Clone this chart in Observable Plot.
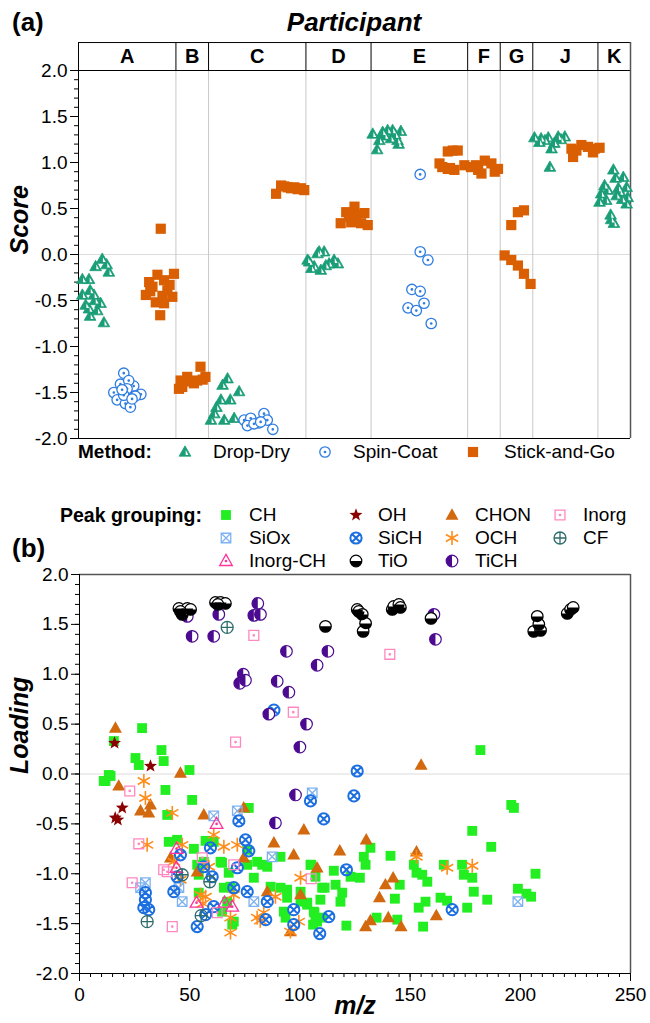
<!DOCTYPE html>
<html><head><meta charset="utf-8">
<script src="https://cdn.jsdelivr.net/npm/d3@7"></script>
<script src="https://cdn.jsdelivr.net/npm/@observablehq/plot@0.6"></script>
<style>
body{margin:0;background:#fff;font-family:"Liberation Sans",Arial,Helvetica,sans-serif;color:#000;}
#wrap{position:relative;width:650px;height:1023px;overflow:hidden;background:#fff;}
.t{position:absolute;white-space:nowrap;line-height:24px;height:24px;}
</style></head><body><div id="wrap"></div>
<script>
// ---------------- DATA (panel a) ----------------
const participants = ["A","B","C","D","E","F","G","J","K"];
const participantEdges = [0, 17.65, 23.56, 41.2, 53.0, 70.5, 76.4, 82.3, 94.1, 100];
const methodLabels = ["Drop-Dry","Spin-Coat","Stick-and-Go"];
const scoreTicks = [-2,-1.5,-1,-0.5,0,0.5,1,1.5,2];

// [sample position, score]
const dropDry = [
[0.7,-0.27],[1.9,-0.27],[2.1,-0.39],[0.7,-0.44],[2.8,-0.44],[1.3,-0.55],[4.0,-0.53],[1.9,-0.59],[3.4,-0.61],[2.1,-0.67],[4.6,-0.74],[3.1,-0.13],[4.3,-0.05],[5.1,-0.11],[5.5,-0.19],[3.0,-0.50],
[27.0,-1.35],[26.1,-1.42],[29.1,-1.49],[25.8,-1.58],[27.5,-1.58],[25.0,-1.66],[24.0,-1.80],[26.4,-1.80],[28.2,-1.78],[24.6,-1.73],
[41.5,-0.06],[43.6,0.03],[44.5,0.03],[42.7,-0.13],[43.9,-0.17],[45.4,-0.10],[46.3,-0.06],[47.0,-0.10],[44.8,-0.12],[41.8,-0.08],[43.3,0.01],[42.2,-0.15],
[53.3,1.31],[55.1,1.33],[56.0,1.35],[56.9,1.35],[58.4,1.34],[54.5,1.24],[56.6,1.26],[57.8,1.24],[54.1,1.14],[55.5,1.29],[57.4,1.30],[58.0,1.20],
[82.6,1.27],[83.8,1.26],[85.1,1.27],[86.9,1.28],[88.1,1.28],[83.5,1.22],[85.7,1.15],[85.4,0.95],[84.5,1.24],[87.4,1.25],[86.2,1.21],
[96.9,0.92],[95.3,0.75],[97.3,0.83],[98.7,0.84],[94.7,0.66],[95.9,0.70],[97.8,0.72],[99.3,0.73],[94.4,0.57],[95.6,0.59],[97.5,0.64],[99.3,0.55],[96.4,0.43],[97.0,0.34],[98.1,0.68],[96.5,0.38],[98.5,0.60],[99.5,0.62]
];
const spinCoat = [
[8.2,-1.29],[7.6,-1.41],[10.0,-1.43],[9.1,-1.37],[6.4,-1.50],[11.3,-1.52],[7.0,-1.58],[10.3,-1.54],[8.5,-1.62],[9.4,-1.66],[8.8,-1.46],[8.2,-1.53],[9.7,-1.57],[7.9,-1.47],
[30.0,-1.80],[31.2,-1.78],[32.7,-1.83],[33.6,-1.73],[34.2,-1.80],[35.2,-1.90],[30.6,-1.86],[31.8,-1.84],[33.0,-1.82],
[61.9,0.87],[61.9,0.03],[63.3,-0.06],[60.4,-0.38],[61.9,-0.40],[62.6,-0.53],[59.7,-0.58],[61.2,-0.61],[63.9,-0.75]
];
const stickAndGo = [
[12.8,-0.30],[14.3,-0.22],[15.5,-0.28],[17.3,-0.21],[12.2,-0.44],[14.0,-0.52],[15.5,-0.53],[17.0,-0.46],[14.8,-0.66],[13.4,-0.35],[16.1,-0.39],[16.5,-0.33],[14.9,0.28],[13.0,-0.40],[15.2,-0.45],
[18.5,-1.37],[18.2,-1.46],[19.7,-1.33],[20.9,-1.40],[22.1,-1.22],[23.0,-1.33],[21.5,-1.37],[18.8,-1.44],[20.3,-1.38],[22.5,-1.36],
[35.8,0.66],[36.7,0.75],[37.9,0.73],[39.1,0.73],[40.3,0.72],[40.9,0.70],[37.3,0.74],[38.5,0.72],[39.7,0.71],
[48.5,0.46],[50.0,0.52],[51.8,0.45],[47.5,0.34],[49.4,0.35],[51.2,0.34],[52.4,0.32],[50.3,0.43],[49.0,0.41],
[66.9,1.12],[67.8,1.13],[68.7,1.13],[65.4,0.99],[66.9,0.93],[68.1,0.92],[69.9,0.97],[65.9,0.95],[67.3,0.94],
[71.1,0.95],[72.4,0.92],[73.6,1.02],[74.8,0.99],[76.0,0.93],[73.0,0.88],[75.4,0.90],[72.0,0.97],
[78.4,0.32],[79.6,0.46],[80.7,0.48],[77.2,-0.01],[78.4,-0.06],[79.6,-0.12],[80.7,-0.21],[81.9,-0.32],
[89.3,1.15],[91.1,1.19],[92.3,1.17],[93.5,1.15],[89.6,1.06],[93.2,1.11],[94.4,1.16],[90.2,1.13]
];

// ---------------- DATA (panel b) : [m/z, loading] ----------------
const mzTicks = [0,50,100,150,200,250];
const loadingTicks = [-2,-1.5,-1,-0.5,0,0.5,1,1.5,2];
const CH = [
[11.8,-0.07],[13.3,-0.01],[14.1,-0.02],[11.0,-0.07],[15.6,0.33],[28.4,0.46],[25.4,0.16],[26.9,0.09],[37.2,0.24],[38.2,0.13],[49.9,0.04],[39.0,-0.16],
[51.1,-0.26],[39.8,-0.41],[40.5,-0.68],[44.3,-0.66],[51.9,-0.75],[57.2,-0.67],[76.8,-0.34],[56.4,-0.88],[64.7,-0.89],[67.7,-0.99],[79.1,-1.04],[82.9,-0.91],[85.2,-0.93],[91.2,-0.83],[104.8,-0.91],[107.1,-1.03],[110.1,-1.14],[86.7,-1.13],[91.2,-1.14],[94.2,-1.24],[92.7,-1.38],[93.5,-1.44],[100.3,-1.28],[103.3,-1.31],[106.3,-1.38],[107.8,-1.48],[110.1,-1.44],[67.0,-1.28],[69.3,-1.51],[68.5,-1.13],[65.5,-1.14],[54.1,-1.01],[53.4,-0.91],[60.9,-0.68],[64.0,-0.88],[76.1,-0.76],[80.6,-0.88],[76.1,-0.91],[100.3,-1.18],[94.2,-1.16],[54.1,-1.19],[64.7,-1.38],[70.0,-1.48],
[195.9,-0.31],[197.1,-0.34],[178.2,-0.57],[186.8,-0.73],[181.9,0.24],[132.0,-0.74],[129.0,-0.83],[141.1,-0.82],[129.8,-0.91],[151.7,-0.91],[165.3,-0.91],[173.6,-0.91],[115.4,-0.97],[105.1,-0.91],[123.0,-1.03],[127.2,-1.04],[152.9,-0.99],[155.5,-1.01],[157.8,-1.08],[174.4,-1.01],[178.2,-1.04],[206.9,-1.00],[145.3,-1.11],[116.2,-1.11],[111.2,-1.14],[119.2,-1.19],[178.9,-1.18],[198.9,-1.15],[202.8,-1.20],[204.9,-1.23],[185.0,-1.26],[163.8,-1.24],[166.8,-1.27],[175.9,-1.34],[157.0,-1.28],[153.9,-1.34],[143.1,-1.25],[118.4,-1.28],[109.3,-1.26],[103.3,-1.29],[106.6,-1.39],[107.1,-1.47],[106.0,-1.51],[134.8,-1.44],[144.2,-1.46],[121.1,-1.52],[155.9,-1.53]
];
const SiOx = [[29.9,-1.09],[27.7,-1.14],[46.6,-1.28],[45.1,-1.14],[60.9,-0.42],[71.6,-0.37],[79.1,-1.28],[87.4,-0.83],[105.6,-0.19],[198.9,-1.28]];
const InorgCH = [[44.0,-0.75],[44.0,-0.94],[62.2,-0.50],[53.1,-1.29],[65.8,-1.29],[69.3,-1.33]];
const OH = [[15.9,0.31],[32.2,0.08],[19.4,-0.34],[17.4,-0.46],[16.2,-0.44]];
const SiCH = [[29.9,-1.19],[29.9,-1.26],[29.2,-1.34],[31.4,-1.36],[42.8,-1.18],[44.3,-1.03],[45.8,-0.81],[53.4,-1.53],[56.4,-0.93],[59.4,-0.74],[60.2,-1.03],[60.9,-1.33],[57.2,-1.41],[71.6,-0.94],[70.0,-1.14],[72.3,-0.47],[76.1,-1.18],[75.3,-0.66],[76.8,-0.77],[85.2,-1.28],[84.5,-1.46],[97.2,-1.36],[97.2,-1.51],[104.8,-0.27],[110.8,-0.45],[109.0,-1.60],[113.1,-1.43],[126.0,0.03],[124.5,-0.22],[121.1,-0.96],[169.1,-1.36],[88.2,0.64]];
const TiO = [[45.1,1.66],[48.9,1.66],[46.6,1.60],[50.4,1.65],[45.8,1.63],[61.7,1.72],[64.0,1.72],[66.2,1.71],[62.8,1.70],[111.6,1.48],[126.0,1.65],[126.7,1.63],[128.3,1.60],[129.8,1.51],[128.7,1.43],[141.9,1.65],[142.6,1.68],[144.9,1.70],[145.6,1.67],[159.5,1.56],[207.7,1.58],[206.1,1.43],[209.2,1.44],[208.4,1.50],[221.3,1.61],[222.8,1.65],[224.0,1.67]];
const CHON = [[16.3,0.46],[17.8,-0.12],[45.8,0.01],[27.7,-0.37],[31.4,-0.39],[32.2,-0.31],[56.4,-0.41],[74.5,-0.34],[88.2,-0.69],[97.2,-0.81],[101.8,-0.56],[107.8,-0.94],[53.4,-0.98],[100.3,-1.21],[85.2,-1.18],[95.7,-1.58],[74.5,-0.84],[41.3,-0.84],[155.0,0.09],[130.1,-0.66],[118.1,-0.77],[142.3,-1.04],[138.8,-1.11],[136.1,-1.24],[152.9,-0.78],[161.9,-1.42],[140.1,-1.44],[132.0,-1.47],[129.8,-1.53],[145.9,-1.53]];
const OCH = [[29.2,-0.07],[29.9,-0.24],[30.7,-0.71],[42.1,-0.39],[46.6,-0.71],[60.9,-0.61],[65.5,-0.73],[71.6,-0.71],[58.7,-0.93],[54.9,-1.21],[57.2,-1.23],[70.0,-1.21],[68.5,-1.44],[68.5,-1.59],[80.6,-1.44],[83.6,-1.39],[88.9,-1.23],[95.7,-1.58],[99.5,-1.48],[100.3,-1.04],[45.8,-1.06],[42.8,-0.88],[152.9,-0.83],[166.8,-0.94],[178.2,-0.92],[82.0,-1.47],[56.0,-1.30]];
const TiCH = [[48.9,1.58],[51.1,1.38],[63.2,1.60],[60.9,1.38],[80.9,1.71],[79.1,1.59],[82.1,1.60],[93.9,1.23],[74.3,1.00],[72.7,0.91],[75.3,0.94],[89.7,0.93],[95.0,0.82],[85.9,0.60],[103.0,0.50],[100.0,0.27],[107.8,1.09],[112.7,1.23],[160.8,1.60],[161.5,1.35],[98.0,-0.21],[88.9,-0.49]];
const Inorg = [[22.8,-0.17],[26.9,-0.70],[23.9,-1.09],[38.2,-0.96],[39.8,-0.98],[42.1,-1.53],[55.7,-0.84],[62.5,-1.39],[70.0,-0.91],[105.1,-1.05],[70.8,0.32],[79.1,1.39],[97.0,0.62],[140.8,1.20]];
const CF = [[46.6,-1.01],[59.1,-1.08],[55.2,-1.42],[30.7,-1.48],[67.0,1.47]];

// ---------------- symbols & styles ----------------
const FONT = "'Liberation Sans', Arial, Helvetica, sans-serif";
function S(f){ return {draw(c,size){ f(c, Math.sqrt(size/Math.PI)); }}; }
function circlePath(c,r){ c.moveTo(r,0); c.arc(0,0,r,0,2*Math.PI); }
function dotPath(c,r){ const d=0.7; c.moveTo(d,0); c.arc(0,0,d,0,2*Math.PI); }
function squarePath(c,r){ const h=r*0.85; c.moveTo(-h,-h); c.lineTo(h,-h); c.lineTo(h,h); c.lineTo(-h,h); c.closePath(); }
function triPath(c,r){ c.moveTo(0,-r*1.1); c.lineTo(r*1.05,r*0.75); c.lineTo(-r*1.05,r*0.75); c.closePath(); }
function starPath(c,r){
  for (let i=0;i<10;i++){ const a=-Math.PI/2+i*Math.PI/5, rr=i%2?r*0.42:r; const x=Math.cos(a)*rr, y=Math.sin(a)*rr; i?c.lineTo(x,y):c.moveTo(x,y); }
  c.closePath();
}
const sym = {
  tri: S(triPath),
  triInner: S((c,r)=>{ c.moveTo(r*0.12,-r*0.35); c.lineTo(r*0.62,r*0.52); c.lineTo(r*0.12,r*0.52); c.closePath(); }),
  square: S(squarePath),
  circle: S(circlePath),
  circleDot: S((c,r)=>{ circlePath(c,r); dotPath(c,r); }),
  squareX: S((c,r)=>{ squarePath(c,r); const h=r*0.85; c.moveTo(-h,-h); c.lineTo(h,h); c.moveTo(h,-h); c.lineTo(-h,h); }),
  squareDot: S((c,r)=>{ squarePath(c,r); dotPath(c,r); }),
  triDot: S((c,r)=>{ triPath(c,r); dotPath(c,r); }),
  circleX: S((c,r)=>{ circlePath(c,r); const k=r*0.707; c.moveTo(-k,-k); c.lineTo(k,k); c.moveTo(k,-k); c.lineTo(-k,k); }),
  circlePlus: S((c,r)=>{ circlePath(c,r); c.moveTo(-r,0); c.lineTo(r,0); c.moveTo(0,-r); c.lineTo(0,r); }),
  halfBottom: S((c,r)=>{ c.moveTo(r,0); c.arc(0,0,r,0,Math.PI); c.closePath(); }),
  halfLeft: S((c,r)=>{ c.moveTo(0,-r); c.arc(0,0,r,-Math.PI/2,Math.PI/2,true); c.closePath(); }),
  asterisk: S((c,r)=>{ for (const a of [90,30,150]) { const t=a*Math.PI/180, dx=Math.cos(t)*r, dy=Math.sin(t)*r; c.moveTo(-dx,-dy); c.lineTo(dx,dy);} }),
  star: S(starPath)
};

const styleA = {
  "Drop-Dry": [{symbol:sym.tri, fill:"#1b9e77", stroke:"#1b9e77", r:5.6, strokeWidth:0.8},{symbol:sym.triInner, fill:"white", stroke:"none", r:5.6}],
  "Spin-Coat": [{symbol:sym.circleDot, fill:"white", stroke:"#2f7de1", r:5.2, strokeWidth:1.3}],
  "Stick-and-Go": [{symbol:sym.square, fill:"#d95f02", stroke:"none", r:6}]
};
const dataA = {"Drop-Dry": dropDry, "Spin-Coat": spinCoat, "Stick-and-Go": stickAndGo};

const styleB = {
  "CH": [{symbol:sym.square, fill:"#22ee22", stroke:"none", r:5.8}],
  "SiOx": [{symbol:sym.squareX, fill:"none", stroke:"#7fb2f0", r:5.6, strokeWidth:1.3}],
  "Inorg-CH": [{symbol:sym.triDot, fill:"none", stroke:"#ff3399", r:6, strokeWidth:1.3}],
  "OH": [{symbol:sym.star, fill:"#8b0000", stroke:"none", r:6.8}],
  "SiCH": [{symbol:sym.circleX, fill:"none", stroke:"#1c6fe0", r:5.6, strokeWidth:2}],
  "TiO": [{symbol:sym.circle, fill:"white", stroke:"black", r:5.8, strokeWidth:1.2},{symbol:sym.halfBottom, fill:"black", stroke:"none", r:5.8}],
  "CHON": [{symbol:sym.tri, fill:"#d2690f", stroke:"none", r:6.2}],
  "OCH": [{symbol:sym.asterisk, fill:"none", stroke:"#ff8c1a", r:7, strokeWidth:1.6}],
  "TiCH": [{symbol:sym.circle, fill:"white", stroke:"#4b0a8f", r:5.8, strokeWidth:1.2},{symbol:sym.halfLeft, fill:"#4b0a8f", stroke:"none", r:5.8}],
  "Inorg": [{symbol:sym.squareDot, fill:"none", stroke:"#ff88c0", r:5.8, strokeWidth:1.3}],
  "CF": [{symbol:sym.circlePlus, fill:"none", stroke:"#2e6b6b", r:6, strokeWidth:1.3}]
};
const dataB = {"CH":CH,"SiOx":SiOx,"Inorg-CH":InorgCH,"OH":OH,"SiCH":SiCH,"TiO":TiO,"CHON":CHON,"OCH":OCH,"TiCH":TiCH,"Inorg":Inorg,"CF":CF};
const drawOrderB = ["CH","CHON","OCH","SiOx","SiCH","Inorg","Inorg-CH","CF","OH","TiCH","TiO"];
const legendColsB = [["CH","SiOx","Inorg-CH"],["OH","SiCH","TiO"],["CHON","OCH","TiCH"],["Inorg","CF"]];

function dotLayers(data, layers){
  return layers.map(L => Plot.dot(data, {x:d=>d[0], y:d=>d[1], symbol:L.symbol, r:L.r, fill:L.fill, stroke:L.stroke, strokeWidth:L.strokeWidth||1}));
}

const wrap = document.getElementById("wrap");

// ---------------- Panel (a) ----------------
const headerTop = 2.304, headerMid = 2.152;
const innerEdges = participantEdges.slice(1,-1);
const mids = d3.pairs(participantEdges).map(([a,b])=>(a+b)/2);
const plotA = Plot.plot({
  width:650, height:445, marginLeft:78, marginRight:20, marginTop:70, marginBottom:7,
  x:{domain:[0,100], axis:null},
  y:{domain:[-2,2], axis:null},
  style:{fontFamily:FONT, fontSize:"19px", background:"white", color:"black", overflow:"visible"},
  marks:[
    Plot.ruleY([0], {stroke:"#dcdcdc"}),
    Plot.ruleX(innerEdges, {y1:-2, y2:2, stroke:"#c8c8c8"}),
    Plot.ruleX(innerEdges, {y1:2, y2:headerTop, stroke:"black"}),
    Plot.text(participants, {x:(d,i)=>mids[i], y:headerMid, fontSize:20, fontWeight:"bold", fill:"black"}),
    Plot.ruleY([headerTop], {stroke:"black"}),
    Plot.ruleY([2], {stroke:"black"}),
    Plot.ruleX([100], {y1:-2, y2:headerTop, stroke:"#555", strokeWidth:1.5}),
    Plot.axisY(d3.range(-20,21).map(d=>d/10), {tickSize:4, tickFormat:()=>"", label:null}),
    Plot.axisY(scoreTicks, {tickSize:8, tickPadding:3, fontSize:19, tickFormat:d=>d.toFixed(1), label:null}),
    Plot.ruleX([0], {y1:-2, y2:headerTop, stroke:"black"}),
    Plot.ruleY([-2], {stroke:"black"}),
    Plot.text(["Score"], {frameAnchor:"left", dx:-59, rotate:-90, fontSize:25, fontWeight:"bold", fontStyle:"italic", fill:"black"}),
    ...methodLabels.flatMap(m => dotLayers(dataA[m], styleA[m]))
  ]
});
plotA.style.position="absolute"; plotA.style.left="0px"; plotA.style.top="0px";
wrap.appendChild(plotA);

// ---------------- Panel (b) ----------------
const plotB = Plot.plot({
  width:650, height:469, marginLeft:79, marginRight:20, marginTop:20, marginBottom:50,
  x:{domain:[0,250], axis:null},
  y:{domain:[-2,2], axis:null},
  style:{fontFamily:FONT, fontSize:"19px", background:"white", color:"black", overflow:"visible"},
  marks:[
    Plot.ruleY([0], {stroke:"#dcdcdc"}),
    Plot.ruleY([2], {stroke:"#555", strokeWidth:1.5}),
    Plot.ruleX([250], {stroke:"#555", strokeWidth:1.5}),
    Plot.axisY(d3.range(-20,21).map(d=>d/10), {tickSize:4, tickFormat:()=>"", label:null}),
    Plot.axisY(loadingTicks, {tickSize:8, tickPadding:3, fontSize:19, tickFormat:d=>d.toFixed(1), label:null}),
    Plot.axisX(d3.range(0,251,5), {tickSize:4, tickFormat:()=>"", label:null}),
    Plot.axisX(mzTicks, {tickSize:8, tickPadding:6, fontSize:19, tickFormat:d=>String(d), label:null}),
    Plot.ruleX([0], {stroke:"black"}),
    Plot.ruleY([-2], {stroke:"black"}),
    Plot.text(["Loading"], {frameAnchor:"left", dx:-60, rotate:-90, fontSize:25, fontWeight:"bold", fontStyle:"italic", fill:"black"}),
    Plot.text(["m/z"], {frameAnchor:"bottom", dy:40, fontSize:25, fontWeight:"bold", fontStyle:"italic", fill:"black"}),
    ...drawOrderB.flatMap(g => dotLayers(dataB[g], styleB[g]))
  ]
});
plotB.style.position="absolute"; plotB.style.left="0px"; plotB.style.top="554px";
wrap.appendChild(plotB);

// ---------------- HTML text & legends ----------------
function text(str, x, cy, opts={}){
  const d = document.createElement("div");
  d.className="t"; d.textContent=str;
  d.style.left = x+"px"; d.style.top=(cy-12)+"px";
  d.style.fontSize=(opts.size||19)+"px";
  if (opts.bold) d.style.fontWeight="bold";
  if (opts.italic) d.style.fontStyle="italic";
  if (opts.center) d.style.transform="translateX(-50%)";
  wrap.appendChild(d);
}
function marker(cx, cy, layers){
  const svg = d3.create("svg").attr("width",24).attr("height",24)
    .style("position","absolute").style("left",(cx-12)+"px").style("top",(cy-12)+"px").style("overflow","visible");
  for (const L of layers) svg.append("path").attr("transform","translate(12,12)")
    .attr("d", d3.symbol(L.symbol, Math.PI*L.r*L.r)())
    .attr("fill",L.fill).attr("stroke",L.stroke).attr("stroke-width",L.strokeWidth||1);
  wrap.appendChild(svg.node());
}

text("(a)", 12, 22, {size:26, bold:true});
text("Participant", 354, 22, {size:26, bold:true, italic:true, center:true});

// Method legend
const methodY = 452;
text("Method:", 78, methodY, {bold:true});
const methodMarkerX = [185, 325, 473], methodTextX = [213, 353, 504];
methodLabels.forEach((m,i)=>{ marker(methodMarkerX[i], methodY, styleA[m]); text(m, methodTextX[i], methodY); });

// Peak grouping legend
text("Peak grouping:", 60, 515, {bold:true, size:19.5});
text("(b)", 12, 548, {size:26, bold:true});
const colMarkerX = [226, 356, 452, 560], colTextX = [249, 378, 475, 583], rowY = [515, 538, 561];
legendColsB.forEach((col,ci)=>col.forEach((g,ri)=>{ marker(colMarkerX[ci], rowY[ri], styleB[g]); text(g, colTextX[ci], rowY[ri]); }));
</script></body></html>
